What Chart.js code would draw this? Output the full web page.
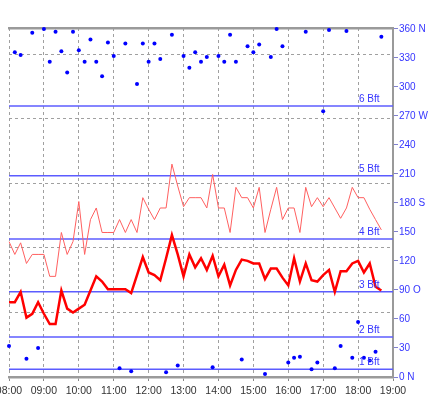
<!DOCTYPE html>
<html lang="de">
<head>
    <meta charset="UTF-8">
    <title>Wind</title>
    <style>
        html, body { margin: 0; padding: 0; background: #fff; overflow: hidden; }
        #wrap { position: relative; width: 429px; height: 414px; overflow: hidden; }
        #windChart { position: absolute; left: -20px; top: 0; }
    </style>
</head>
<body>
    <div id="wrap"><canvas id="windChart" width="449" height="414"></canvas></div>

    <script src="https://cdn.jsdelivr.net/npm/chart.js"></script>
    <script>
        // 10-minute readings, 08:00 - 19:00
        const times = [
            '08:00','08:10','08:20','08:30','08:40','08:50',
            '09:00','09:10','09:20','09:30','09:40','09:50',
            '10:00','10:10','10:20','10:30','10:40','10:50',
            '11:00','11:10','11:20','11:30','11:40','11:50',
            '12:00','12:10','12:20','12:30','12:40','12:50',
            '13:00','13:10','13:20','13:30','13:40','13:50',
            '14:00','14:10','14:20','14:30','14:40','14:50',
            '15:00','15:10','15:20','15:30','15:40','15:50',
            '16:00','16:10','16:20','16:30','16:40','16:50',
            '17:00','17:10','17:20','17:30','17:40','17:50',
            '18:00','18:10','18:20','18:30','18:40','18:50',
            '19:00'
        ];

        // wind speed in knots
        const gust = [
            10.5, 9.5, 10.4, 8.8, 9.5, 9.5, 9.5, 7.8, 7.8, 11.2, 9.5, 10.5,
            13.6, 9.5, 12.2, 13.1, 11.2, 11.2, 11.2, 12.2, 11.2, 12.2, 11.2, 13.9,
            13.0, 12.2, 13.1, 13.1, 16.5, 14.8, 13.2, 13.9, 13.9, 13.9, 13.1, 15.7,
            13.1, 13.1, 11.2, 14.7, 13.9, 13.9, 13.1, 14.7, 11.2, 13.0, 14.7, 12.2,
            13.1, 13.1, 11.2, 14.7, 13.2, 13.9, 13.2, 13.9, 13.1, 12.3, 13.1, 14.7,
            13.9, 13.9, 13.0, 12.2, 11.4
        ];
        const mean = [
            5.8, 5.8, 6.6, 4.6, 4.9, 5.8, 4.9, 4.1, 4.1, 6.7, 5.3, 5.0,
            5.3, 5.6, 6.7, 7.8, 7.4, 6.8, 6.8, 6.8, 6.8, 6.5, 7.9, 9.3,
            8.1, 7.9, 7.5, 9.2, 11.0, 9.5, 7.8, 9.5, 8.5, 9.2, 8.3, 9.4,
            7.8, 8.7, 7.1, 8.3, 9.1, 9.0, 8.8, 8.8, 7.6, 8.4, 8.4, 7.7,
            7.1, 9.2, 7.4, 8.8, 7.5, 7.4, 7.9, 8.3, 6.6, 8.2, 8.2, 8.8,
            9.0, 8.1, 8.8, 7.0, 6.7
        ];
        // wind direction in degrees
        const direction = [
            32, 336, 333, 19, 356, 30, 360, 326, 357, 337, 315, 357,
            338, 326, 349, 326, 311, 346, 332, 9, 345, 6, 303, 345,
            326, 345, 329, 5, 354, 12, 332, 320, 336, 326, 331, 10,
            332, 326, 354, 326, 18, 342, 336, 344, 3, 331, 360, 342,
            15, 20, 21, 357, 8, 15, 275, 359, 9, 32, 358, 20,
            57, 20, 17, 26, 352
        ];

        // Beaufort limits (knots)
        const bftLevels = [0.6, 3.1, 6.6, 10.7, 15.6, 21.0];
        const bftNames = ['1 Bft', '2 Bft', '3 Bft', '4 Bft', '5 Bft', '6 Bft'];

        const speedGrid = [5, 10, 15, 20, 25];
        const dirTicks = [0, 30, 60, 90, 120, 150, 180, 210, 240, 270, 300, 330, 360];
        const dirTickLabels = ['0 N', '30', '60', '90 O', '120', '150', '180 S', '210', '240', '270 W', '300', '330', '360 N'];

        const labelFont = { family: '"Liberation Sans", Arial, sans-serif', size: 10 };
        const isHour = i => times[i] !== undefined && times[i].endsWith(':00');

        // "n Bft" labels above each limit line
        const bftLabels = {
            id: 'bftLabels',
            afterDatasetsDraw(chart) {
                const { ctx, chartArea, scales } = chart;
                ctx.save();
                ctx.font = '10px "Liberation Sans", Arial, sans-serif';
                ctx.fillStyle = '#3535ff';
                ctx.textAlign = 'left';
                ctx.textBaseline = 'alphabetic';
                bftLevels.forEach((lvl, i) => {
                    ctx.fillText(bftNames[i], chartArea.right - 34, scales.y.getPixelForValue(lvl) - 4);
                });
                ctx.restore();
            }
        };

        const bftDatasets = bftLevels.map(level => ({
            data: times.map(() => level),
            yAxisID: 'y',
            borderColor: '#5c5cff',
            borderWidth: 1.5,
            pointRadius: 0,
            order: 3
        }));

        const ctx = document.getElementById('windChart').getContext('2d');
        new Chart(ctx, {
            type: 'line',
            data: {
                labels: times,
                datasets: [
                    {
                        label: 'Richtung',
                        data: direction,
                        yAxisID: 'dir',
                        showLine: false,
                        pointRadius: 2,
                        pointBorderWidth: 0,
                        pointBackgroundColor: '#0000ff',
                        clip: false,
                        order: 0
                    },
                    {
                        label: 'Mittel',
                        data: mean,
                        yAxisID: 'y',
                        borderColor: '#ff0000',
                        borderWidth: 2.5,
                        pointRadius: 0,
                        order: 1
                    },
                    {
                        label: 'Böen',
                        data: gust,
                        yAxisID: 'y',
                        borderColor: '#ff6060',
                        borderWidth: 1,
                        pointRadius: 0,
                        order: 2
                    },
                    ...bftDatasets
                ]
            },
            options: {
                responsive: false,
                animation: false,
                devicePixelRatio: 1,
                layout: { padding: { left: 29, top: 28, right: 0, bottom: 0 } },
                plugins: {
                    legend: { display: false },
                    tooltip: { enabled: false }
                },
                scales: {
                    x: {
                        type: 'category',
                        offset: false,
                        grid: {
                            color: c => isHour(c.index) ? '#a0a0a0' : 'transparent',
                            tickColor: c => isHour(c.index) ? '#888888' : 'transparent',
                            tickLength: 4
                        },
                        border: { color: '#9a9a9a', width: 2.5, dash: [3, 3] },
                        ticks: {
                            autoSkip: false,
                            maxRotation: 0,
                            minRotation: 0,
                            padding: 4,
                            color: '#333',
                            font: { family: labelFont.family, size: 10.5 },
                            callback: (v, i) => isHour(i) ? times[i] : ''
                        },
                        afterFit: s => { s.height = 37; }
                    },
                    xTop: {
                        type: 'category',
                        position: 'top',
                        grid: { drawOnChartArea: false, drawTicks: false },
                        border: { color: '#9a9a9a', width: 2.5 },
                        ticks: { display: false },
                        afterFit: s => { s.height = 0; }
                    },
                    y: {
                        position: 'left',
                        min: 0,
                        max: 27.05,
                        afterBuildTicks: s => { s.ticks = speedGrid.map(v => ({ value: v })); },
                        grid: { color: '#a0a0a0', drawTicks: false },
                        border: { display: false, dash: [3, 3] },
                        ticks: { display: false },
                        afterFit: s => { s.width = 0; }
                    },
                    dir: {
                        position: 'right',
                        min: 0,
                        max: 361,
                        afterBuildTicks: s => { s.ticks = dirTicks.map(v => ({ value: v })); },
                        grid: { drawOnChartArea: false, tickLength: 5, tickColor: '#8080d0' },
                        border: { color: '#9a9a9a', width: 2 },
                        ticks: {
                            padding: 1,
                            color: '#3535ff',
                            font: labelFont,
                            callback: v => dirTickLabels[dirTicks.indexOf(v)]
                        },
                        afterFit: s => { s.width = 36; }
                    }
                }
            },
            plugins: [bftLabels]
        });
    </script>
</body>
</html>
